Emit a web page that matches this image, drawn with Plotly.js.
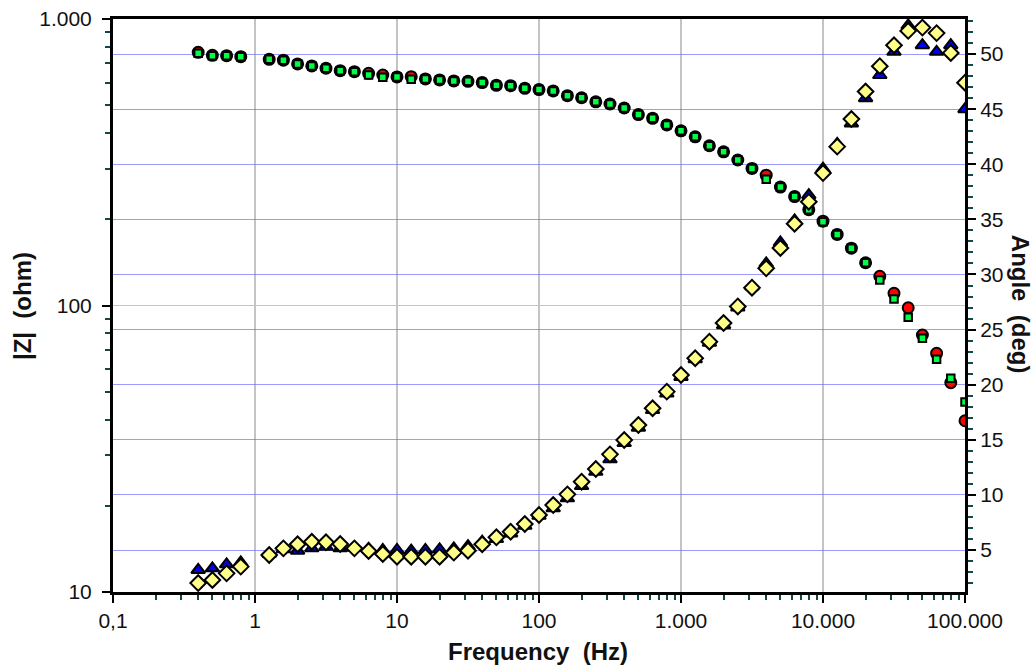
<!DOCTYPE html>
<html>
<head>
<meta charset="utf-8">
<script src="https://cdn.plot.ly/plotly-3.0.1.min.js"></script>
<style>html,body{margin:0;padding:0;background:#fff;}#chart{width:1035px;height:668px;}</style>
</head>
<body>
<div id="chart"></div>
<script>
// Frequencies (Hz), 10 points per decade, 1 Hz point absent
var freq = [0.398, 0.501, 0.631, 0.794,
  1.259, 1.585, 1.995, 2.512, 3.162, 3.981, 5.012, 6.310, 7.943, 10,
  12.59, 15.85, 19.95, 25.12, 31.62, 39.81, 50.12, 63.10, 79.43, 100,
  125.9, 158.5, 199.5, 251.2, 316.2, 398.1, 501.2, 631.0, 794.3, 1000,
  1259, 1585, 1995, 2512, 3162, 3981, 5012, 6310, 7943, 10000,
  12589, 15849, 19953, 25119, 31623, 39811, 50119, 63096, 79433, 100000];

// |Z| (ohm) - red circles
var zCirc = [765, 747, 745, 739,
  723, 718, 697, 686, 673, 660, 655, 646, 637, 628,
  629, 618, 613, 608, 606, 600, 587, 585, 573, 567,
  561, 540, 531, 514, 505, 489, 464, 450, 427, 407,
  388, 361, 344, 322, 301, 285, 259, 240, 216, 197,
  177, 158.5, 141, 126.5, 110.3, 98.2, 78.9, 68.1, 53.8, 39.6];

// |Z| (ohm) - green squares
var zSq = [759, 745, 745, 739,
  723, 718, 696, 686, 673, 660, 655, 638, 626, 627,
  616, 618, 613, 608, 606, 600, 587, 585, 573, 567,
  561, 540, 531, 514, 505, 489, 464, 450, 427, 407,
  388, 361, 344, 322, 301, 276, 259, 240, 216, 196,
  177, 158.5, 141, 122.7, 105.4, 90.9, 76.8, 64.9, 55.7, 46.0];

// Angle (deg) - blue triangles
var angTri = [3.19, 3.34, 3.70, 3.88,
  4.64, 5.06, 4.94, 5.15, 5.30, 5.15, 5.20, 5.10, 5.00, 5.00,
  4.94, 5.00, 5.06, 5.15, 5.36, 5.75, 6.00, 6.50, 7.20, 8.10,
  8.78, 9.69, 10.8, 12.1, 13.23, 14.7, 16.1, 17.7, 19.2, 20.7,
  22.3, 23.8, 25.4, 27.0, 28.9, 31.0, 32.9, 34.9, 37.2, 39.6,
  41.84, 43.7, 46.0, 48.1, 50.2, 52.6, 50.8, 50.2, 50.8, 45.0];

// Angle (deg) - yellow diamonds
var angDia = [2.00, 2.28, 2.88, 3.49,
  4.55, 5.15, 5.52, 5.75, 5.70, 5.54, 5.15, 4.91, 4.64, 4.39,
  4.39, 4.39, 4.39, 4.76, 4.94, 5.52, 6.15, 6.66, 7.36, 8.18,
  9.08, 10.05, 11.2, 12.35, 13.68, 14.98, 16.34, 17.86, 19.37, 20.88,
  22.4, 23.9, 25.6, 27.1, 28.8, 30.56, 32.4, 34.6, 36.6, 39.2,
  41.6, 44.1, 46.6, 48.9, 50.8, 52.1, 52.4, 51.9, 50.1, 47.4];

// Tick labels
var xTickVals = [0.1, 1, 10, 100, 1000, 10000, 100000];
var xTickText = ['0,1', '1', '10', '100', '1.000', '10.000', '100.000'];
var yTickVals = [10, 100, 1000];
var yTickText = ['10', '100', '1.000'];
var y2TickVals = [5, 10, 15, 20, 25, 30, 35, 40, 45, 50];

function minorLog(lo, hi) {
  var out = [];
  for (var e = lo; e < hi; e++) {
    for (var m = 2; m <= 9; m++) out.push(m * Math.pow(10, e));
  }
  return out;
}

var FONT = 'Liberation Sans, Arial, sans-serif';
var TEAL = '#0d4a4a';

var traces = [
  {x: freq, y: zCirc, yaxis: 'y', type: 'scatter', mode: 'markers', name: '|Z| 1',
   marker: {symbol: 'circle', size: 11, color: '#ff0000', line: {color: '#000', width: 2}}},
  {x: freq, y: zSq, yaxis: 'y', type: 'scatter', mode: 'markers', name: '|Z| 2',
   marker: {symbol: 'square', size: 7.5, color: '#00ff44', line: {color: '#000', width: 2}}},
  {x: freq, y: angTri, yaxis: 'y2', type: 'scatter', mode: 'markers', name: 'Angle 1',
   marker: {symbol: 'triangle-up', size: 12, color: '#0000ee', line: {color: '#000', width: 2}}},
  {x: freq, y: angDia, yaxis: 'y2', type: 'scatter', mode: 'markers', name: 'Angle 2',
   marker: {symbol: 'diamond', size: 12, color: '#ffff88', line: {color: '#000', width: 2}}}
];

var layout = {
  width: 1035, height: 668,
  margin: {l: 113, r: 70, t: 19, b: 76, pad: 0},
  paper_bgcolor: '#fff', plot_bgcolor: '#fff',
  showlegend: false,
  font: {family: FONT, size: 21, color: '#111'},
  xaxis: {
    type: 'log', range: [-1, 5], automargin: false,
    tickmode: 'array', tickvals: xTickVals, ticktext: xTickText,
    ticks: 'outside', ticklen: 8, tickwidth: 2, tickcolor: '#000',
    tickfont: {family: FONT, size: 21, color: '#111'},
    showline: true, linewidth: 3, linecolor: '#000', mirror: true,
    showgrid: true, gridcolor: '#c4c4c4', gridwidth: 1.5, zeroline: false,
    minor: {tickmode: 'array', tickvals: minorLog(-1, 5), ticks: 'outside', ticklen: 5, tickwidth: 2, tickcolor: TEAL, showgrid: false}
  },
  yaxis: {
    type: 'log', range: [1, 3], automargin: false,
    tickmode: 'array', tickvals: yTickVals, ticktext: yTickText,
    ticks: 'outside', ticklen: 8, tickwidth: 2, tickcolor: '#000',
    tickfont: {family: FONT, size: 21, color: '#111'},
    ticklabelstandoff: 6,
    showline: true, linewidth: 3, linecolor: '#000',
    showgrid: true, gridcolor: '#c4c4c4', gridwidth: 1.5, zeroline: false,
    minor: {tickmode: 'array', tickvals: minorLog(1, 3), ticks: 'outside', ticklen: 5, tickwidth: 2, tickcolor: TEAL, showgrid: false}
  },
  yaxis2: {
    overlaying: 'y', side: 'right', range: [1.19, 53.18], automargin: false,
    tickmode: 'array', tickvals: y2TickVals,
    ticks: 'outside', ticklen: 8, tickwidth: 2, tickcolor: '#000',
    tickfont: {family: FONT, size: 21, color: '#111'},
    showline: true, linewidth: 3, linecolor: '#000',
    showgrid: true, gridcolor: 'rgba(100,100,255,0.65)', gridwidth: 1, zeroline: false,
    minor: {tick0: 0, dtick: 1, ticks: 'outside', ticklen: 5, tickwidth: 2, tickcolor: TEAL, showgrid: false}
  },
  annotations: [
    {text: 'Frequency\u00a0 (Hz)', xref: 'paper', yref: 'paper', x: 0.4994, y: -0.103,
     xanchor: 'center', yanchor: 'middle', showarrow: false,
     font: {family: FONT, size: 24, color: '#111', weight: 'bold'}},
    {text: '|Z|\u00a0 (ohm)', xref: 'paper', yref: 'paper', x: -0.1068, y: 0.499,
     xanchor: 'center', yanchor: 'middle', showarrow: false, textangle: -90,
     font: {family: FONT, size: 24, color: '#111', weight: 'bold'}},
    {text: 'Angle\u00a0 (deg)', xref: 'paper', yref: 'paper', x: 1.0652, y: 0.502,
     xanchor: 'center', yanchor: 'middle', showarrow: false, textangle: 90,
     font: {family: FONT, size: 24, color: '#111', weight: 'bold'}}
  ]
};

Plotly.newPlot('chart', traces, layout, {staticPlot: true, displayModeBar: false});
</script>
</body>
</html>
